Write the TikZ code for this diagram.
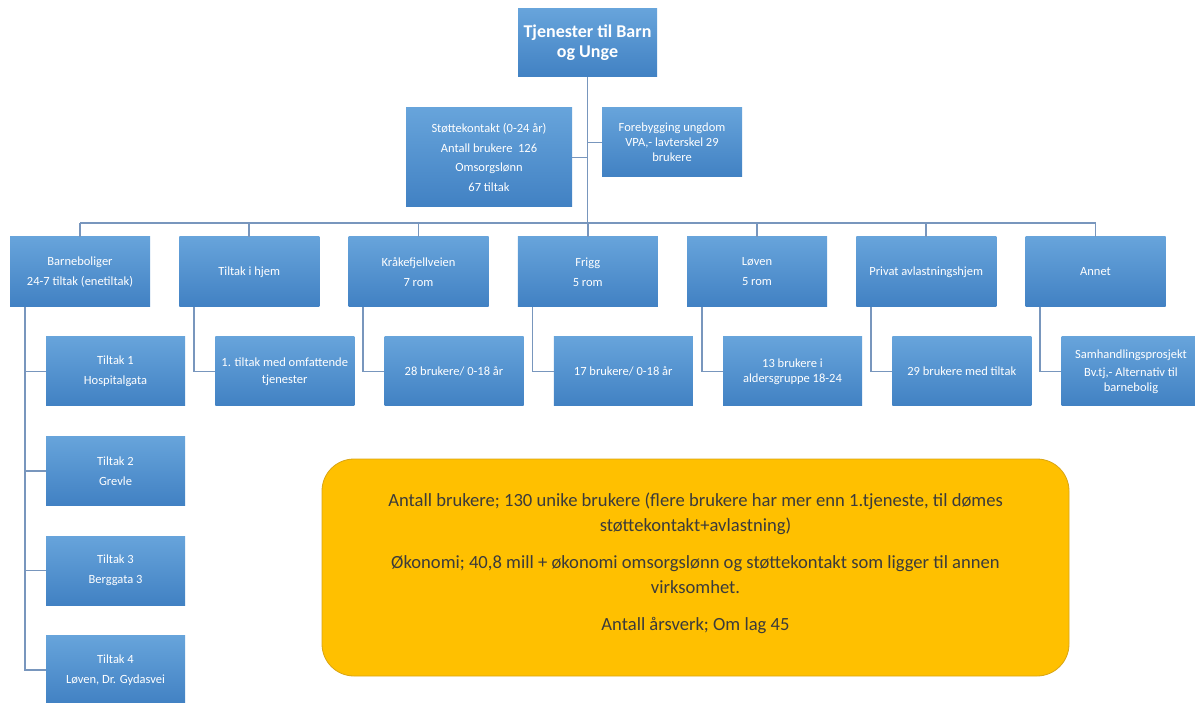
\documentclass[tikz,border=0pt]{standalone}
\usepackage{fontspec}
\setmainfont{Carlito}
\usetikzlibrary{calc}
\definecolor{boxtop}{HTML}{67A4DB}
\definecolor{boxbot}{HTML}{4181C3}
\definecolor{linkblue}{HTML}{7896BD}
\definecolor{noteyellow}{HTML}{FFC000}
\definecolor{noteedge}{HTML}{D9A514}
\definecolor{notetext}{HTML}{3B3B3B}
\tikzset{
    unit/.style={rectangle, top color=boxtop, bottom color=boxbot, text=white, align=center,
        minimum width=140pt, minimum height=70pt, inner sep=1pt, font=\fontsize{12.5}{15}\selectfont},
    link/.style={draw=linkblue, line width=1.8pt},
    note/.style={rectangle, rounded corners=32pt, fill=noteyellow, draw=noteedge, line width=0.8pt,
        minimum width=747pt, minimum height=217pt, text=notetext, align=center,
        font=\fontsize{18.6}{25}\selectfont}
}

\begin{document}
\begin{tikzpicture}[x=1pt, y=-1pt]
    \newcommand*{\colstep}{169.25}
    \newcommand*{\rowstep}{99.5}
    \newcommand*{\kidshift}{35.5}
    \useasboundingbox (0,0) rectangle (1195,703);
    \clip (0,0) rectangle (1195,703);
    \coordinate (busy) at (0,223);
    % top level
    \node[unit, minimum width=139pt, minimum height=68pt, font=\bfseries\fontsize{18}{20}\selectfont] (top) at (587.5,43) {Tjenester til Barn\\og Unge};
    \node[unit, minimum width=166pt, minimum height=99pt] (stotte) at (489,157.5) {Støttekontakt (0-24 år)\\[4.7pt]Antall brukere~ 126\\[4.7pt]Omsorgslønn\\[4.7pt]67 tiltak};
    \node[unit, minimum height=69pt] (forebyg) at (672,142.5) {Forebygging ungdom\\VPA,- lavterskel 29\\brukere};
    % first row
    \node[unit] (bolig) at (80,272) {Barneboliger\\[5pt]24-7 tiltak (enetiltak)};
    \node[unit] (hjem) at (80+\colstep,272) {Tiltak i hjem};
    \node[unit] (krake) at (80+2*\colstep,272) {Kråkefjellveien\\[5pt]7 rom};
    \node[unit] (frigg) at (80+3*\colstep,272) {Frigg\\[5pt]5 rom};
    \node[unit] (loven) at (80+4*\colstep,272) {Løven\\[5pt]5 rom};
    \node[unit] (privat) at (80+5*\colstep,272) {Privat avlastningshjem};
    \node[unit] (annet) at (80+6*\colstep,272) {Annet};
    % second row
    \node[unit, minimum width=139pt, minimum height=69pt] (tiltak1) at (80+\kidshift,371.5) {Tiltak 1\\[5pt]Hospitalgata};
    \node[unit, minimum width=139pt, minimum height=69pt] (tiltak2) at (80+\kidshift,371.5+\rowstep) {Tiltak 2\\[5pt]Grevle};
    \node[unit, minimum width=139pt, minimum height=69pt] (tiltak3) at (80+\kidshift,371.5+2*\rowstep) {Tiltak 3\\[5pt]Berggata 3};
    \node[unit, minimum width=139pt, minimum height=69pt] (tiltak4) at (80+\kidshift,371.5+3*\rowstep) {Tiltak 4\\[5pt]Løven, Dr. Gydasvei};
    \node[unit, minimum width=139pt, minimum height=69pt] (hjemkid) at (80+\colstep+\kidshift,371.5) {1. tiltak med omfattende\\[2pt]tjenester};
    \node[unit, minimum width=139pt, minimum height=69pt] (krakekid) at (80+2*\colstep+\kidshift,371.5) {28 brukere/ 0-18 år};
    \node[unit, minimum width=139pt, minimum height=69pt] (friggkid) at (80+3*\colstep+\kidshift,371.5) {17 brukere/ 0-18 år};
    \node[unit, minimum width=139pt, minimum height=69pt] (lovenkid) at (80+4*\colstep+\kidshift,371.5) {13 brukere i\\aldersgruppe 18-24};
    \node[unit, minimum width=139pt, minimum height=69pt] (privatkid) at (80+5*\colstep+\kidshift,371.5) {29 brukere med tiltak};
    \node[unit, minimum width=139pt, minimum height=69pt] (annetkid) at (80+6*\colstep+\kidshift,371.5) {Samhandlingsprosjekt\\[3pt]Bv.tj,- Alternativ til\\barnebolig};
    % summary
    \node[note] (summary) at (695.5,567.5) {Antall brukere; 130 unike brukere (flere brukere har mer enn 1.tjeneste, til dømes\\støttekontakt+avlastning)\\[12pt]Økonomi; 40,8 mill + økonomi omsorgslønn og støttekontakt som ligger til annen\\virksomhet.\\[12pt]Antall årsverk; Om lag 45\\[-14pt]\mbox{}};
    % links
    \draw[link] (top.south) -- (top.south |- busy);
    \draw[link] (stotte.east) -- (stotte.east -| top.south);
    \draw[link] (forebyg.west) -- (forebyg.west -| top.south);
    \draw[link] (bolig.north |- busy) -- (annet.north |- busy);
    \draw[link] (bolig.north) -- (bolig.north |- busy);
    \draw[link] (hjem.north) -- (hjem.north |- busy);
    \draw[link] (krake.north) -- (krake.north |- busy);
    \draw[link] (frigg.north) -- (frigg.north |- busy);
    \draw[link] (loven.north) -- (loven.north |- busy);
    \draw[link] (privat.north) -- (privat.north |- busy);
    \draw[link] (annet.north) -- (annet.north |- busy);
    \draw[link] ([xshift=15pt]bolig.south west) |- (tiltak1.west);
    \draw[link] ([xshift=15pt]bolig.south west) |- (tiltak2.west);
    \draw[link] ([xshift=15pt]bolig.south west) |- (tiltak3.west);
    \draw[link] ([xshift=15pt]bolig.south west) |- (tiltak4.west);
    \draw[link] ([xshift=15pt]hjem.south west) |- (hjemkid.west);
    \draw[link] ([xshift=15pt]krake.south west) |- (krakekid.west);
    \draw[link] ([xshift=15pt]frigg.south west) |- (friggkid.west);
    \draw[link] ([xshift=15pt]loven.south west) |- (lovenkid.west);
    \draw[link] ([xshift=15pt]privat.south west) |- (privatkid.west);
    \draw[link] ([xshift=15pt]annet.south west) |- (annetkid.west);
\end{tikzpicture}
\end{document}
